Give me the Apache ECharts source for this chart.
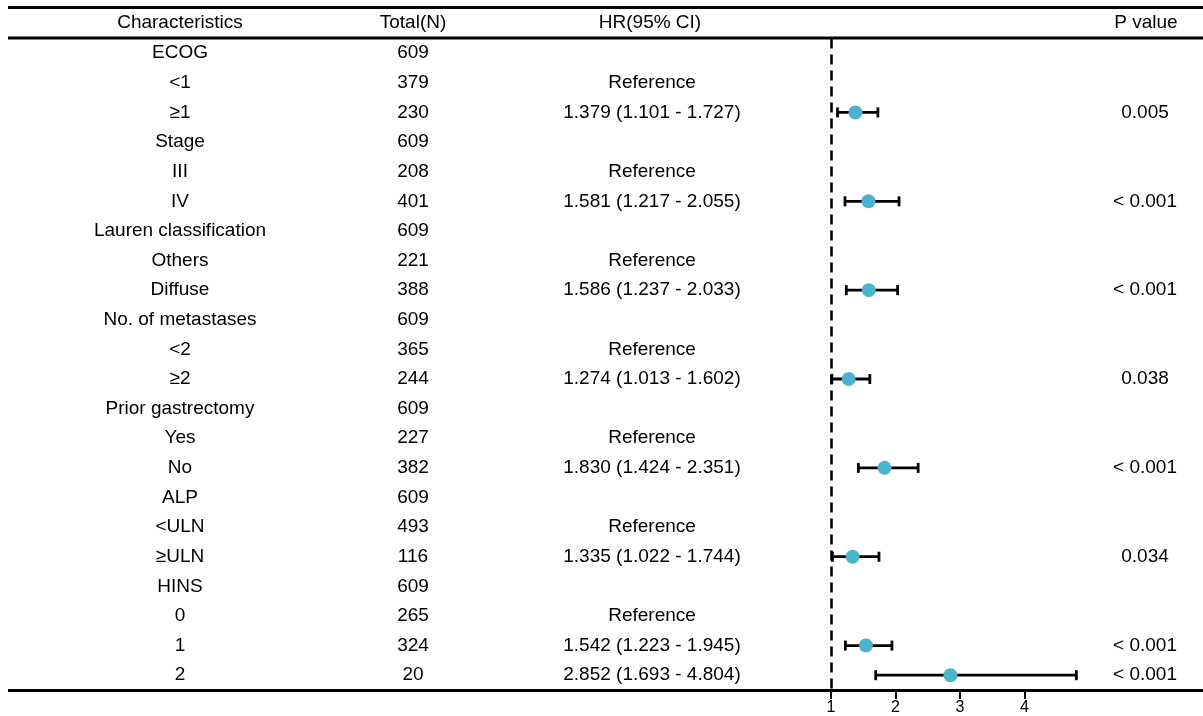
<!DOCTYPE html>
<html><head><meta charset="utf-8">
<script src="https://cdn.jsdelivr.net/npm/echarts@6/dist/echarts.min.js"></script>
<style>html,body{margin:0;padding:0;background:#fff}#c{width:1203px;height:716px}</style>
</head><body><div id="c"></div>
<script>
const characteristics = ['ECOG','<1','≥1','Stage','III','IV','Lauren classification','Others','Diffuse','No. of metastases','<2','≥2','Prior gastrectomy','Yes','No','ALP','<ULN','≥ULN','HINS','0','1','2'];
const totals = ['609','379','230','609','208','401','609','221','388','609','365','244','609','227','382','609','493','116','609','265','324','20'];
const hrText = ['','Reference','1.379 (1.101 - 1.727)','','Reference','1.581 (1.217 - 2.055)','','Reference','1.586 (1.237 - 2.033)','','Reference','1.274 (1.013 - 1.602)','','Reference','1.830 (1.424 - 2.351)','','Reference','1.335 (1.022 - 1.744)','','Reference','1.542 (1.223 - 1.945)','2.852 (1.693 - 4.804)'];
const pText = ['','','0.005','','','< 0.001','','','< 0.001','','','0.038','','','< 0.001','','','0.034','','','< 0.001','< 0.001'];
const hr    = [null,null,1.379,null,null,1.581,null,null,1.586,null,null,1.274,null,null,1.830,null,null,1.335,null,null,1.542,2.852];
const lower = [null,null,1.101,null,null,1.217,null,null,1.237,null,null,1.013,null,null,1.424,null,null,1.022,null,null,1.223,1.693];
const upper = [null,null,1.727,null,null,2.055,null,null,2.033,null,null,1.602,null,null,2.351,null,null,1.744,null,null,1.945,4.804];
const headers = ['Characteristics','Total(N)','HR(95% CI)','P value'];
const xTicks = [1,2,3,4];

const FONT = 'Liberation Sans, Arial, sans-serif';
const FS = 19;

const gridLeft = 831, gridRight = 114, gridTop = 38.4, gridBottom = 24.0;

function textAxis(data, position, offset) {
  return {
    type: 'category', data: data, inverse: true, position: position, offset: offset,
    axisLine: {show: false}, axisTick: {show: false}, splitLine: {show: false},
    axisLabel: {show: true, margin: 0, align: 'center', color: '#000', fontSize: FS, fontFamily: FONT, interval: 0}
  };
}

const ciData = [], ptData = [];
for (let i = 0; i < hr.length; i++) {
  if (hr[i] != null) {
    ciData.push([lower[i], upper[i], i]);
    ptData.push([hr[i], i]);
  }
}

const chart = echarts.init(document.getElementById('c'), null, {renderer: 'canvas'});
const lineStyleBlack = {stroke: '#000', lineWidth: 3};
function header(text, x) {
  return {type: 'text', x: x, y: 23, style: {text: text, textAlign: 'center', textVerticalAlign: 'middle', fill: '#000', fontSize: FS, fontFamily: FONT}};
}
chart.setOption({
  backgroundColor: '#fff',
  animation: false,
  grid: {left: gridLeft, right: gridRight, top: gridTop, bottom: gridBottom, containLabel: false},
  xAxis: {
    type: 'value', min: 1, max: 5, interval: 1,
    axisLine: {show: false},
    axisTick: {show: true, customValues: xTicks, length: 9, lineStyle: {color: '#000', width: 2}},
    axisLabel: {customValues: xTicks, margin: 10, color: '#000', fontSize: 16, fontFamily: FONT},
    splitLine: {show: false}
  },
  yAxis: [
    textAxis(characteristics, 'left', 651),
    textAxis(totals, 'left', 418),
    textAxis(hrText, 'left', 179),
    textAxis(pText, 'right', 56)
  ],
  graphic: [
    {type: 'line', shape: {x1: 8, y1: 7.5, x2: 1203, y2: 7.5}, style: lineStyleBlack, z: 10},
    {type: 'line', shape: {x1: 8, y1: 38, x2: 1203, y2: 38}, style: lineStyleBlack, z: 10},
    {type: 'line', shape: {x1: 8, y1: 690.6, x2: 1203, y2: 690.6}, style: lineStyleBlack, z: 10},
    header(headers[0], 180),
    header(headers[1], 413),
    header(headers[2], 650),
    header(headers[3], 1146)
  ],
  series: [
    {
      type: 'custom', yAxisIndex: 0, data: ciData, z: 3,
      renderItem: function (params, api) {
        const y = api.value(2);
        const p1 = api.coord([api.value(0), y]);
        const p2 = api.coord([api.value(1), y]);
        const cap = 5;
        const st = {stroke: '#000', lineWidth: 2.8};
        return {type: 'group', children: [
          {type: 'line', shape: {x1: p1[0], y1: p1[1], x2: p2[0], y2: p2[1]}, style: st},
          {type: 'line', shape: {x1: p1[0], y1: p1[1] - cap, x2: p1[0], y2: p1[1] + cap}, style: st},
          {type: 'line', shape: {x1: p2[0], y1: p2[1] - cap, x2: p2[0], y2: p2[1] + cap}, style: st}
        ]};
      }
    },
    {
      type: 'scatter', yAxisIndex: 0, data: ptData, symbol: 'circle', symbolSize: 14, z: 4,
      itemStyle: {color: '#4cb3cc', opacity: 1},
      markLine: {
        silent: true, symbol: ['none', 'none'], label: {show: false},
        lineStyle: {color: '#000', width: 2.6, type: [10, 6]},
        data: [{xAxis: 1}]
      }
    }
  ]
});
</script></body></html>
